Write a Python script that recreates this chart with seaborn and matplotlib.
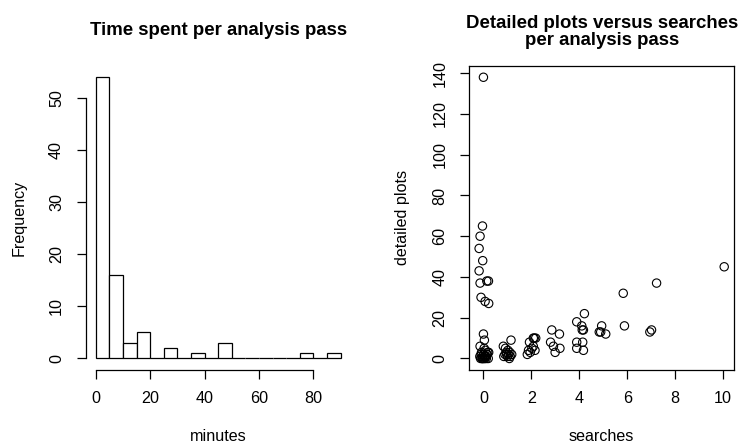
import matplotlib
matplotlib.use("Agg")
import matplotlib.pyplot as plt
import seaborn as sns
import numpy as np
import pandas as pd

# ---- data ----
bin_edges = [0, 5, 10, 15, 20, 25, 30, 35, 40, 45, 50, 55, 60, 65, 70, 75, 80, 85, 90]
bin_counts = [54, 16, 3, 5, 0, 2, 0, 1, 0, 3, 0, 0, 0, 0, 0, 1, 0, 1]

searches = [
    # ~0 low cluster
    -0.05, 0.02, 0.10, -0.12, 0.15, 0.05, -0.08, 0.20, 0.00, 0.12, -0.15,
    0.08, -0.02, 0.18, 0.03, -0.10, 0.10, 0.06, -0.06, 0.14, 0.22, -0.03,
    # ~0 high
    0.00, -0.04, -0.14, -0.18, -0.03, -0.18, -0.14, 0.14, 0.21, -0.10, 0.07,
    0.22, 0.00, 0.04, -0.14,
    # ~1
    0.83, 1.15, 0.85, 0.90, 0.95, 1.00, 1.02, 1.05, 1.08, 1.10, 0.92, 1.12,
    0.97, 1.18,
    # ~2
    1.83, 1.88, 1.92, 2.08, 2.18, 2.15, 2.08, 2.02, 2.12, 1.95,
    # ~3
    2.85, 3.17, 2.80, 2.92, 2.99, 3.19,
    # ~4
    3.89, 4.10, 4.12, 4.17, 4.21, 3.89, 4.14, 3.89, 4.17,
    # ~5
    4.93, 4.83, 4.89, 5.10,
    # ~6
    5.83, 5.88,
    # ~7
    7.22, 6.94, 7.01,
    # 10
    10.04,
]
detailed_plots = [
    0, 0, 1, 0, 2, 1, 3, 0, 2, 0, 1,
    4, 0, 3, 5, 2, 1, 0, 0, 2, 3, 1,
    138, 65, 60, 54, 48, 43, 37, 38, 38, 30, 28,
    27, 12, 9, 6,
    6, 9, 1, 2, 3, 1, 4, 2, 0, 3, 5, 1,
    2, 2,
    2, 4, 8, 10, 10, 4, 6, 5, 10, 3,
    14, 12, 8, 6, 3, 5,
    18, 16, 14, 14, 22, 8, 8, 5, 4,
    16, 13, 13, 12,
    32, 16,
    37, 13, 14,
    45,
]

title_left = "Time spent per analysis pass"
title_right = "Detailed plots versus searches\nper analysis pass"

# ---- style ----
sns.set_style("white")
plt.rcParams["font.family"] = ["Liberation Sans", "DejaVu Sans"]
plt.rcParams["text.color"] = "black"
FS = 11.6
TFS = 13.4

fig = plt.figure(figsize=(7.4, 4.46), dpi=100)
axL = fig.add_axes([0.1161, 0.171, 0.3573, 0.681])
axR = fig.add_axes([0.6342, 0.171, 0.3577, 0.681])

# ---- histogram ----
mids = [(a + b) / 2 for a, b in zip(bin_edges[:-1], bin_edges[1:])]
sns.histplot(x=mids, weights=bin_counts, bins=bin_edges, ax=axL,
             color="white", edgecolor="black", linewidth=0.9, alpha=1)
xr = bin_edges[-1] - bin_edges[0]
axL.set_xlim(bin_edges[0] - 0.04 * xr, bin_edges[-1] + 0.04 * xr)
yr = max(bin_counts)
axL.set_ylim(-0.04 * yr, yr * 1.04)
axL.set_xticks([0, 20, 40, 60, 80])
axL.set_yticks([0, 10, 20, 30, 40, 50])
for s in ["top", "right"]:
    axL.spines[s].set_visible(False)
axL.spines["bottom"].set_bounds(0, 80)
axL.spines["left"].set_bounds(0, 50)

# ---- scatter ----
df = pd.DataFrame({"searches": searches, "detailed plots": detailed_plots})
sns.scatterplot(data=df, x="searches", y="detailed plots", ax=axR,
                marker="o", s=36, fc="none", ec="black", linewidth=0.8)
sx = max(searches) - min(searches)
axR.set_xlim(min(searches) - 0.04 * sx, max(searches) + 0.04 * sx)
sy = max(detailed_plots) - min(detailed_plots)
axR.set_ylim(min(detailed_plots) - 0.04 * sy, max(detailed_plots) + 0.04 * sy)
axR.set_xticks([0, 2, 4, 6, 8, 10])
axR.set_yticks([0, 20, 40, 60, 80, 100, 120, 140])
for s in axR.spines.values():
    s.set_visible(True)
    s.set_color("black")
    s.set_linewidth(0.9)

for ax, xl, yl in [(axL, "minutes", "Frequency"), (axR, "searches", "detailed plots")]:
    ax.tick_params(axis="both", direction="out", length=6.7, width=0.9,
                   color="black", labelsize=FS, labelcolor="black",
                   bottom=True, left=True)
    ax.tick_params(axis="x", pad=8.5)
    ax.tick_params(axis="y", pad=9)
    for lab in ax.get_yticklabels():
        lab.set_rotation(90)
        lab.set_va("center")
    ax.spines["bottom"].set_linewidth(0.9)
    ax.spines["left"].set_linewidth(0.9)
    ax.spines["bottom"].set_color("black")
    ax.spines["left"].set_color("black")
    ax.set_xlabel(xl, fontsize=FS, color="black")
    ax.set_ylabel(yl, fontsize=FS, color="black")
    ax.xaxis.label.set_va("center")
    ax.yaxis.label.set_va("center")
    ax.xaxis.set_label_coords(0.5, -66.7 / 304)
    ax.yaxis.set_label_coords(-67.0 / 264.5, 0.5)

fig.text(0.2947, 1 - 35 / 446, title_left, ha="center", va="baseline",
         fontsize=TFS, fontweight="bold", color="black")
fig.text(0.8131, 1 - 45 / 446, title_right, ha="center", va="baseline",
         fontsize=TFS, fontweight="bold", linespacing=0.98, multialignment="center",
         color="black")

fig.savefig("out.png", dpi=100, facecolor="white")
